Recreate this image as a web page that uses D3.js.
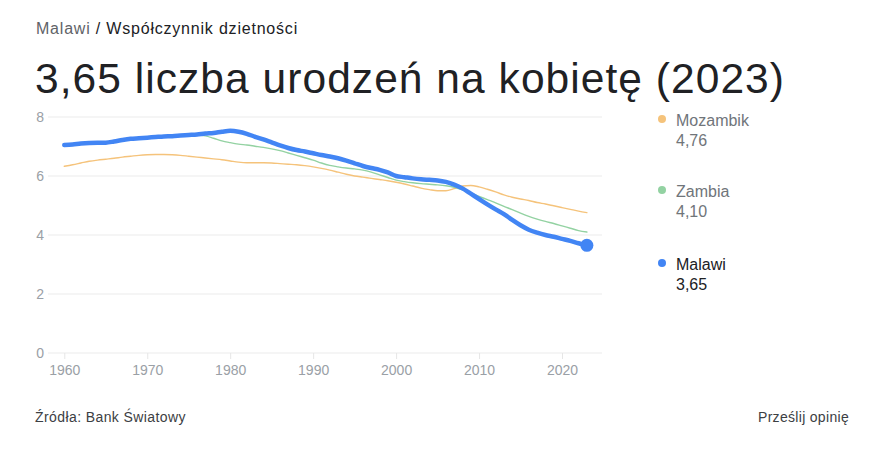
<!DOCTYPE html>
<html><head><meta charset="utf-8">
<script src="https://cdn.jsdelivr.net/npm/d3@7"></script>
<style>
body{margin:0;background:#fff;}
svg{font-family:"Liberation Sans",Arial,sans-serif;}
</style></head>
<body><svg id="c" width="888" height="471"></svg>
<script>
const years = d3.range(1960, 2024);
const malawi = [7.05,7.07,7.10,7.12,7.13,7.13,7.17,7.22,7.26,7.28,
7.30,7.32,7.34,7.35,7.37,7.39,7.41,7.44,7.46,7.50,
7.53,7.50,7.43,7.33,7.24,7.14,7.04,6.95,6.88,6.83,
6.77,6.71,6.66,6.60,6.52,6.43,6.34,6.27,6.21,6.12,
6.00,5.96,5.92,5.89,5.87,5.85,5.80,5.71,5.58,5.40,
5.22,5.04,4.87,4.71,4.51,4.33,4.18,4.08,4.00,3.94,
3.87,3.80,3.72,3.65];
const zambia = [7.02,7.05,7.08,7.10,7.12,7.13,7.16,7.20,7.24,7.26,
7.28,7.30,7.32,7.34,7.36,7.38,7.39,7.36,7.28,7.19,
7.13,7.08,7.05,7.01,6.97,6.92,6.86,6.78,6.70,6.62,
6.54,6.44,6.36,6.31,6.27,6.24,6.20,6.13,6.04,5.95,
5.86,5.81,5.77,5.74,5.72,5.70,5.67,5.62,5.53,5.42,
5.31,5.20,5.09,4.97,4.86,4.74,4.63,4.54,4.46,4.39,
4.31,4.23,4.15,4.10];
const mozambik = [6.33,6.38,6.44,6.50,6.54,6.57,6.60,6.64,6.67,6.70,
6.72,6.73,6.73,6.72,6.70,6.67,6.64,6.61,6.58,6.55,
6.51,6.47,6.45,6.45,6.45,6.44,6.42,6.40,6.38,6.35,
6.31,6.26,6.20,6.13,6.06,6.00,5.96,5.92,5.88,5.84,
5.79,5.73,5.66,5.59,5.54,5.50,5.50,5.57,5.66,5.68,
5.63,5.55,5.46,5.36,5.28,5.22,5.17,5.10,5.05,4.99,
4.93,4.87,4.81,4.76];
const xTicks = [1960,1970,1980,1990,2000,2010,2020];
const yTicks = [0,2,4,6,8];
const seriesNames = ["Mozambik","Zambia","Malawi"];
const seriesLabels = ["4,76","4,10","3,65"];
const colors = ["#f5c37b","#93d2a2","#4285f4"];

const svg = d3.select("#c");
const x = d3.scaleLinear().domain([1960,2020]).range([64.3,562]);
const y = d3.scaleLinear().domain([0,8]).range([353,117]);

// fit text width by letter-spacing
function fit(sel, w){
  const n = sel.text().length;
  const cur = sel.node().getComputedTextLength();
  sel.attr("letter-spacing", ((w - cur)/n).toFixed(3));
}

// gridlines
svg.append("g").selectAll("line").data(yTicks).join("line")
  .attr("x1",48).attr("x2",602).attr("y1",d=>y(d)).attr("y2",d=>y(d))
  .attr("stroke","#ebebeb").attr("stroke-width",1);
// y labels
svg.append("g").selectAll("text").data(yTicks).join("text")
  .attr("x",44).attr("y",d=>y(d)+5).attr("text-anchor","end")
  .attr("font-size",14).attr("fill","#9aa0a6").text(d=>d);
// x axis
const xa = svg.append("g").attr("transform",`translate(0,${y(0)})`)
  .call(d3.axisBottom(x).tickValues(xTicks).tickFormat(d3.format("d")).tickSize(6).tickPadding(6));
xa.select(".domain").remove();
xa.selectAll(".tick line").attr("stroke","#e6e6e6");
xa.selectAll(".tick text").attr("fill","#9aa0a6").attr("font-size",14)
  .attr("font-family","'Liberation Sans', Arial, sans-serif");

const line = d3.line().x((d,i)=>x(years[i])).y(d=>y(d)).curve(d3.curveMonotoneX);
const data = [mozambik, zambia, malawi];
const widths = [1.4,1.4,4.5];
data.forEach((s,k)=>{
  svg.append("path").datum(s).attr("d",line).attr("fill","none")
    .attr("stroke",colors[k]).attr("stroke-width",widths[k])
    .attr("stroke-linejoin","round").attr("stroke-linecap","round");
});
svg.append("circle").attr("cx",x(2023)).attr("cy",y(malawi[malawi.length-1])).attr("r",6.5).attr("fill","#4285f4");

// legend
const legY = [119,190,263];
seriesNames.forEach((n,k)=>{
  const g = svg.append("g");
  g.append("circle").attr("cx",662).attr("cy",legY[k]).attr("r",4).attr("fill",colors[k]);
  const c = k===2 ? "#202124" : "#70757a";
  g.append("text").attr("x",676).attr("y",legY[k]+7).attr("font-size",16).attr("fill",c).text(n);
  g.append("text").attr("x",676).attr("y",legY[k]+27).attr("font-size",16).attr("fill",c).text(seriesLabels[k]);
});

// header
const h = svg.append("text").attr("x",36).attr("y",34).attr("font-size",16);
h.append("tspan").attr("fill","#5f6368").text("Malawi");
h.append("tspan").attr("fill","#202124").text(" / Współczynnik dzietności");
fit(h, 262);
const t = svg.append("text").attr("x",35).attr("y",93).attr("font-size",42.5).attr("fill","#202124")
  .text("3,65 liczba urodzeń na kobietę (2023)");
fit(t, 750);
const f1 = svg.append("text").attr("x",35).attr("y",422).attr("font-size",14).attr("fill","#3c4043").text("Źródła: Bank Światowy");
fit(f1, 151);
const f2 = svg.append("text").attr("x",849).attr("y",422).attr("font-size",14).attr("fill","#3c4043").attr("text-anchor","end").text("Prześlij opinię");
fit(f2, 91);
</script></body></html>
